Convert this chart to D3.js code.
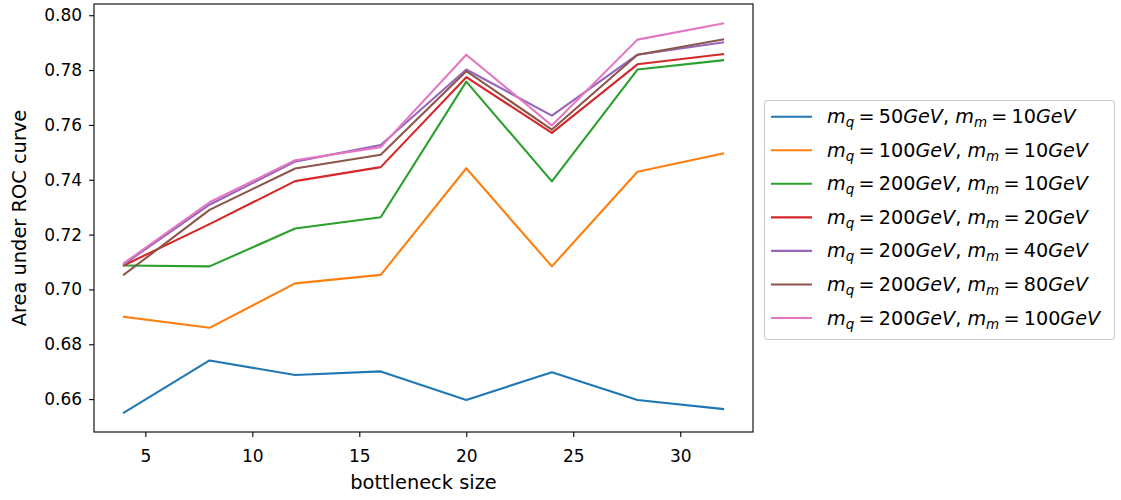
<!DOCTYPE html>
<html>
<head>
<meta charset="utf-8">
<script src="https://cdn.jsdelivr.net/npm/d3@7"></script>
<style>
  html, body { margin: 0; padding: 0; background: #fff; }
  svg { display: block; font-family: "DejaVu Sans", sans-serif; }
</style>
</head>
<body>
<svg id="chart" width="1121" height="500"></svg>
<script>
// Bottleneck sizes on the x axis
const bottleneck = [4, 8, 12, 16, 20, 24, 28, 32];

// AUC per model configuration
const aucMq50Mm10   = [0.6551, 0.6741, 0.6688, 0.6701, 0.6597, 0.6698, 0.6597, 0.6564];
const aucMq100Mm10  = [0.6900, 0.6860, 0.7022, 0.7053, 0.7442, 0.7084, 0.7429, 0.7496];
const aucMq200Mm10  = [0.7087, 0.7084, 0.7222, 0.7263, 0.7758, 0.7394, 0.7802, 0.7836];
const aucMq200Mm20  = [0.7088, 0.7238, 0.7395, 0.7446, 0.7774, 0.7571, 0.7821, 0.7858];
const aucMq200Mm40  = [0.7092, 0.7309, 0.7466, 0.7527, 0.7802, 0.7634, 0.7856, 0.7901];
const aucMq200Mm80  = [0.7054, 0.7290, 0.7441, 0.7491, 0.7796, 0.7583, 0.7856, 0.7912];
const aucMq200Mm100 = [0.7096, 0.7318, 0.7471, 0.7519, 0.7856, 0.7598, 0.7911, 0.7970];

// Legend labels: [m_q value, m_m value]
const mqLabels = ["50", "100", "200", "200", "200", "200", "200"];
const mmLabels = ["10", "10", "10", "20", "40", "80", "100"];

const xTicks = [5, 10, 15, 20, 25, 30];
const yTicks = [0.66, 0.68, 0.70, 0.72, 0.74, 0.76, 0.78, 0.80];

const colors = ["#1f77b4", "#ff7f0e", "#2ca02c", "#d62728", "#9467bd", "#8c564b", "#e377c2"];

const seriesValues = [aucMq50Mm10, aucMq100Mm10, aucMq200Mm10, aucMq200Mm20,
                      aucMq200Mm40, aucMq200Mm80, aucMq200Mm100];
const series = seriesValues.map((vals, i) => ({
  mq: mqLabels[i], mm: mmLabels[i], color: colors[i],
  points: vals.map((v, j) => ({ x: bottleneck[j], y: v }))
}));

const svg = d3.select("#chart");
const plot = { left: 94, right: 753, top: 4, bottom: 432 };

// Data extent with 5% padding on each side
const xExt = d3.extent(bottleneck);
const xPad = (xExt[1] - xExt[0]) * 0.05;
const allY = seriesValues.flat();
const yExt = d3.extent(allY);
const yPad = (yExt[1] - yExt[0]) * 0.05;

const x = d3.scaleLinear().domain([xExt[0] - xPad, xExt[1] + xPad]).range([plot.left, plot.right]);
const y = d3.scaleLinear().domain([yExt[0] - yPad, yExt[1] + yPad]).range([plot.bottom, plot.top]);

// Lines
const line = d3.line().x(d => x(d.x)).y(d => y(d.y));
const gLines = svg.append("g");
series.forEach(s => {
  gLines.append("path")
    .datum(s.points)
    .attr("d", line)
    .attr("fill", "none")
    .attr("stroke", s.color)
    .attr("stroke-width", 2.1)
    .attr("stroke-linejoin", "round")
    .attr("stroke-linecap", "square");
});

// Axes
const tickFont = "17px";
const xAxis = d3.axisBottom(x).tickValues(xTicks).tickFormat(d3.format("d")).tickSizeOuter(0).tickSize(4.9);
const yAxis = d3.axisLeft(y).tickValues(yTicks).tickFormat(d3.format(".2f")).tickSizeOuter(0).tickSize(4.9).tickPadding(7);

const gx = svg.append("g").attr("transform", `translate(0,${plot.bottom})`).call(xAxis);
const gy = svg.append("g").attr("transform", `translate(${plot.left},0)`).call(yAxis);
[gx, gy].forEach(g => {
  g.select(".domain").remove();
  g.selectAll(".tick line").attr("stroke", "#000").attr("stroke-width", 1.1);
  g.selectAll(".tick text").attr("fill", "#000").style("font-size", tickFont).style("font-family", "DejaVu Sans");
});
gx.selectAll(".tick text").attr("y", 30).attr("dy", 0);

// Spines
svg.append("rect")
  .attr("x", plot.left).attr("y", plot.top)
  .attr("width", plot.right - plot.left).attr("height", plot.bottom - plot.top)
  .attr("fill", "none").attr("stroke", "#000").attr("stroke-width", 1.1);

// Axis titles
svg.append("text")
  .attr("x", (plot.left + plot.right) / 2).attr("y", 489)
  .attr("text-anchor", "middle")
  .style("font-size", "19.4px")
  .text("bottleneck size");

svg.append("text")
  .attr("transform", `translate(25.5,${(plot.top + plot.bottom) / 2}) rotate(-90)`)
  .attr("text-anchor", "middle")
  .style("font-size", "19.4px")
  .text("Area under ROC curve");

// Legend
const legend = svg.append("g");
legend.append("rect")
  .attr("x", 764.5).attr("y", 100.5)
  .attr("width", 350).attr("height", 239)
  .attr("rx", 3.5)
  .attr("fill", "#fff").attr("fill-opacity", 0.8)
  .attr("stroke", "#cccccc").attr("stroke-width", 1.1);

const rowY = d3.scaleLinear().domain([0, 6]).range([116.7, 318]);
const fs = 19.2;
series.forEach((s, i) => {
  const yy = rowY(i);
  legend.append("line")
    .attr("x1", 771).attr("x2", 812)
    .attr("y1", yy).attr("y2", yy)
    .attr("stroke", s.color).attr("stroke-width", 2.1);

  const t = legend.append("text")
    .attr("x", 827).attr("y", yy + 6.5)
    .style("font-size", fs + "px")
    .attr("fill", "#000");

  const it = (txt) => t.append("tspan").style("font-style", "italic").text(txt);
  const up = (txt, dx) => t.append("tspan").style("font-style", "normal").attr("dx", dx || 0).text(txt);
  const sub = (txt) => t.append("tspan").style("font-style", "italic")
    .style("font-size", (fs * 0.7) + "px").attr("dy", 4).text(txt);
  const eq = () => t.append("tspan").attr("dy", -4).attr("dx", fs * 0.22).style("font-style", "normal").text("=");

  it("m"); sub("q"); eq(); up(s.mq, fs * 0.22); it("GeV"); up(", ");
  it("m"); sub("m"); eq(); up(s.mm, fs * 0.22); it("GeV");
});
</script>
</body>
</html>
